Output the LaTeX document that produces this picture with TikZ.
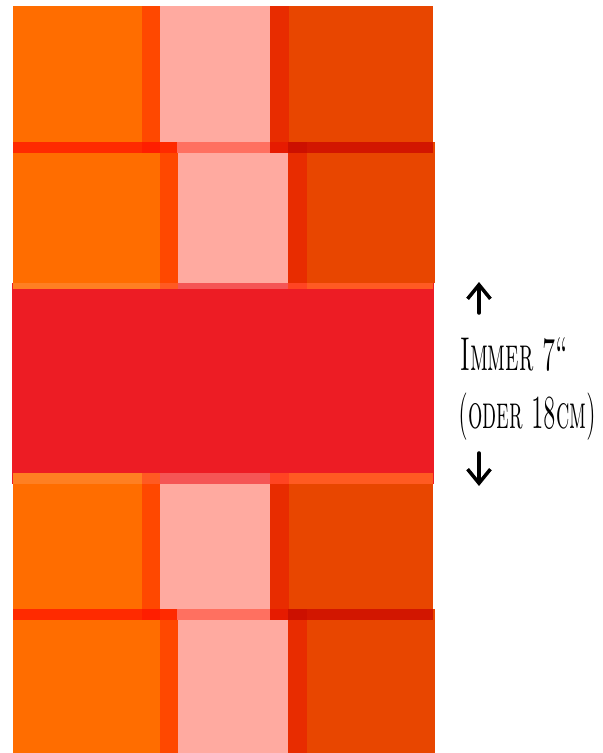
\documentclass[tikz,border=0pt]{standalone}
\usepackage{xcolor}
\usepackage{graphicx}
\usepackage{tikz}
\usetikzlibrary{arrows.meta}

\definecolor{orng}{HTML}{FF6D00}
\definecolor{orngstrip}{HTML}{FF4800}
\definecolor{pnk}{HTML}{FFAAA0}
\definecolor{redstrip}{HTML}{E82C00}
\definecolor{darkorng}{HTML}{E84600}
\definecolor{bandred}{HTML}{ED1C24}
% overlap of two rows
\definecolor{ovorng}{HTML}{FF2A00}
\definecolor{ovstrip}{HTML}{FF1E00}
\definecolor{ovpnk}{HTML}{FF7060}
\definecolor{ovred}{HTML}{E61B00}
\definecolor{ovdeep}{HTML}{CC1000}
\definecolor{ovdark}{HTML}{D21600}
% edge of the red band
\definecolor{ltorng}{HTML}{FF7F22}
\definecolor{ltstrip}{HTML}{FF5A22}
\definecolor{ltpnk}{HTML}{F55555}
\definecolor{ltred}{HTML}{FF4422}

% squeeze a text to a given width, keep its height
\newcommand{\fitw}[2]{\resizebox{#1}{\height}{#2}}

\begin{document}
\begin{tikzpicture}[x=0.02cm,y=-0.02cm,
  measuretext/.style={font=\fontsize{27}{27}\selectfont\scshape,inner sep=0pt},
  arr/.style={line width=2pt,line cap=round,-{Straight Barb[length=8pt,width=13pt,line width=2pt]}}]
\useasboundingbox (0,0) rectangle (602,753);
% bricks
\foreach \ya/\yb/\s in {6/142/0,484/609/0,153/283/18,620/753/18}{
  \fill[orng] (13,\ya) rectangle (142+\s,\yb);
  \fill[orngstrip] (142+\s,\ya) rectangle (160+\s,\yb);
  \fill[pnk] (160+\s,\ya) rectangle (270+\s,\yb);
  \fill[redstrip] (270+\s,\ya) rectangle (289+\s,\yb);
  \fill[darkorng] (289+\s,\ya) rectangle (433+\s/9,\yb);
}
% where the rows overlap
\foreach \y in {142,609}{
  \fill[ovorng] (13,\y) rectangle (142,\y+11);
  \fill[ovstrip] (142,\y) rectangle (160,\y+11);
  \fill[ovorng] (160,\y) rectangle (177,\y+11);
  \fill[ovpnk] (177,\y) rectangle (270,\y+11);
  \fill[ovred] (270,\y) rectangle (288,\y+11);
  \fill[ovdeep] (288,\y) rectangle (307,\y+11);
  \fill[ovdark] (307,\y) rectangle (433,\y+11);
  \fill[darkorng] (433,\y) rectangle (435,\y+11);
}
% red band
\fill[bandred] (12,283) rectangle (434,484);
\foreach \ya/\yb/\s in {283/289/18,473/484/0}{
  \fill[ltorng] (13,\ya) rectangle (142+\s,\yb);
  \fill[ltstrip] (142+\s,\ya) rectangle (160+\s,\yb);
  \fill[ltpnk] (160+\s,\ya) rectangle (270+\s,\yb);
  \fill[ltred] (270+\s,\ya) rectangle (289+\s,\yb);
  \fill[ltstrip] (289+\s,\ya) rectangle (433,\yb);
}
% measure
\node[measuretext,anchor=base west] (immer) at (460,370) {\fitw{2.16cm}{Immer 7“}};
\node[measuretext,anchor=base west] (oder) at (458,428) {\fitw{2.76cm}{(oder 18cm)}};
\coordinate (upfoot) at (479,313);
\coordinate (uptip) at (479,282);
\coordinate (downfoot) at (479,453);
\coordinate (downtip) at (479,486);
\draw[arr] (upfoot) -- (uptip);
\draw[arr] (downfoot) -- (downtip);
\end{tikzpicture}
\end{document}
